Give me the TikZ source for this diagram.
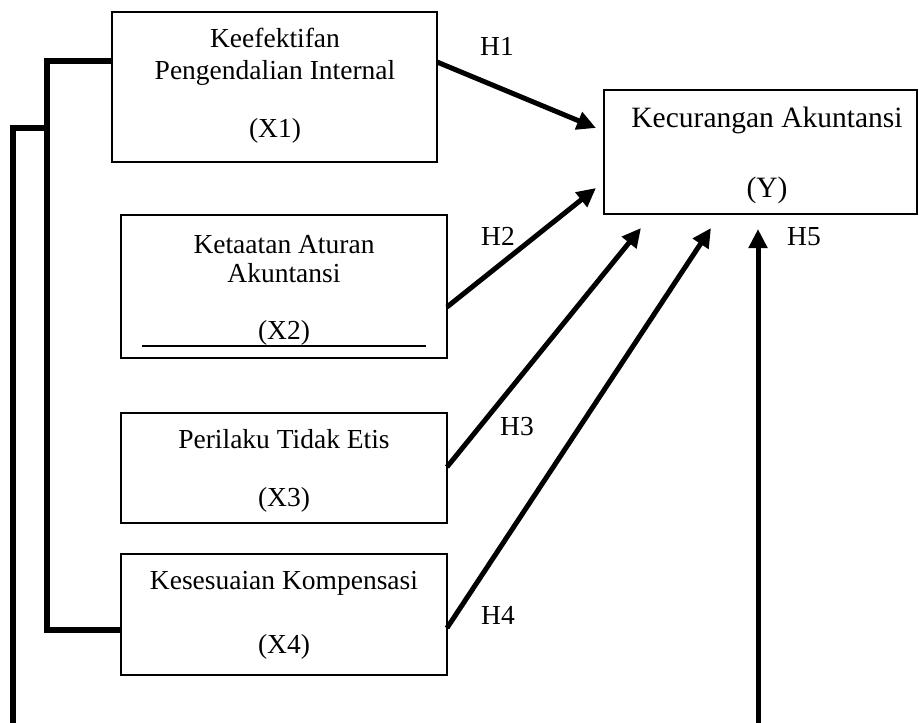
\documentclass[tikz,border=0pt]{standalone}
\usepackage{fontspec}
\setmainfont{Liberation Serif}
\usetikzlibrary{arrows.meta}
\begin{document}
\begin{tikzpicture}[x=1pt,y=-1pt,
  box/.style={draw, line width=2pt, rectangle, inner sep=0pt},
  txt/.style={anchor=base, inner sep=0pt, font=\fontsize{27.5}{32}\selectfont},
  ytxt/.style={anchor=base, inner sep=0pt, font=\fontsize{29.5}{34}\selectfont},
  hyp/.style={anchor=base, inner sep=0pt, font=\fontsize{27.5}{32}\selectfont},
  arr/.style={line width=5pt, -{Triangle[length=19pt,width=18pt]}},
  bracket/.style={line width=5.2pt, line join=miter}]
\useasboundingbox (0,0) rectangle (919,723);

% boxes
\node[box, minimum width=325pt, minimum height=150pt] (x1) at (274.5,87) {};
\node[box, minimum width=326pt, minimum height=143pt] (x2) at (284,286.5) {};
\node[box, minimum width=326pt, minimum height=110pt] (x3) at (284,468) {};
\node[box, minimum width=326pt, minimum height=121pt] (x4) at (284,614.5) {};
\node[box, minimum width=313pt, minimum height=124pt] (y) at (760.5,152) {};

% box texts
\node[txt] (x1a) at (275,47) {Keefektifan};
\node[txt] (x1b) at (275,79) {Pengendalian Internal};
\node[txt] (x1c) at (275,137) {(X1)};
\node[txt] (x2a) at (284,253) {Ketaatan Aturan};
\node[txt] (x2b) at (284,282) {Akuntansi};
\node[txt] (x2c) at (284,339) {(X2)};
\node[txt] (x3a) at (284,448) {Perilaku Tidak Etis};
\node[txt] (x3b) at (284,506) {(X3)};
\node[txt] (x4a) at (284,589) {Kesesuaian Kompensasi};
\node[txt] (x4b) at (284,653) {(X4)};
\node[ytxt] (ya) at (767,127) {Kecurangan Akuntansi};
\node[ytxt] (yb) at (767,197) {(Y)};

% underline in X2
\coordinate (ul1) at (142,346);
\coordinate (ul2) at (426,346);
\draw[line width=1.2pt] (ul1) -- (ul2);

% hypothesis labels
\node[hyp] (h1) at (497,55) {H1};
\node[hyp] (h2) at (498,245) {H2};
\node[hyp] (h3) at (517,435) {H3};
\node[hyp] (h4) at (498,624) {H4};
\node[hyp] (h5) at (804,245) {H5};

% arrow coordinates
\coordinate (s1) at (437,62);
\coordinate (t1) at (596,128);
\coordinate (s2) at (447,307);
\coordinate (t2) at (596,188);
\coordinate (s3) at (447,467);
\coordinate (t3) at (641,228);
\coordinate (s4) at (447,628);
\coordinate (t4) at (711,228);
\coordinate (s5) at (758,723);
\coordinate (t5) at (758,229);

\draw[arr] (s1) -- (t1);
\draw[arr] (s2) -- (t2);
\draw[arr] (s3) -- (t3);
\draw[arr] (s4) -- (t4);
\draw[arr] (s5) -- (t5);

% left brackets
\coordinate (b1) at (112,61);
\coordinate (b2) at (47,61);
\coordinate (b3) at (47,630);
\coordinate (b4) at (121,630);
\draw[bracket] (b1) -- (b2) -- (b3) -- (b4);
\coordinate (o1) at (13,723);
\coordinate (o2) at (13,128);
\coordinate (o3) at (47,128);
\draw[bracket] (o1) -- (o2) -- (o3);
\end{tikzpicture}
\end{document}
